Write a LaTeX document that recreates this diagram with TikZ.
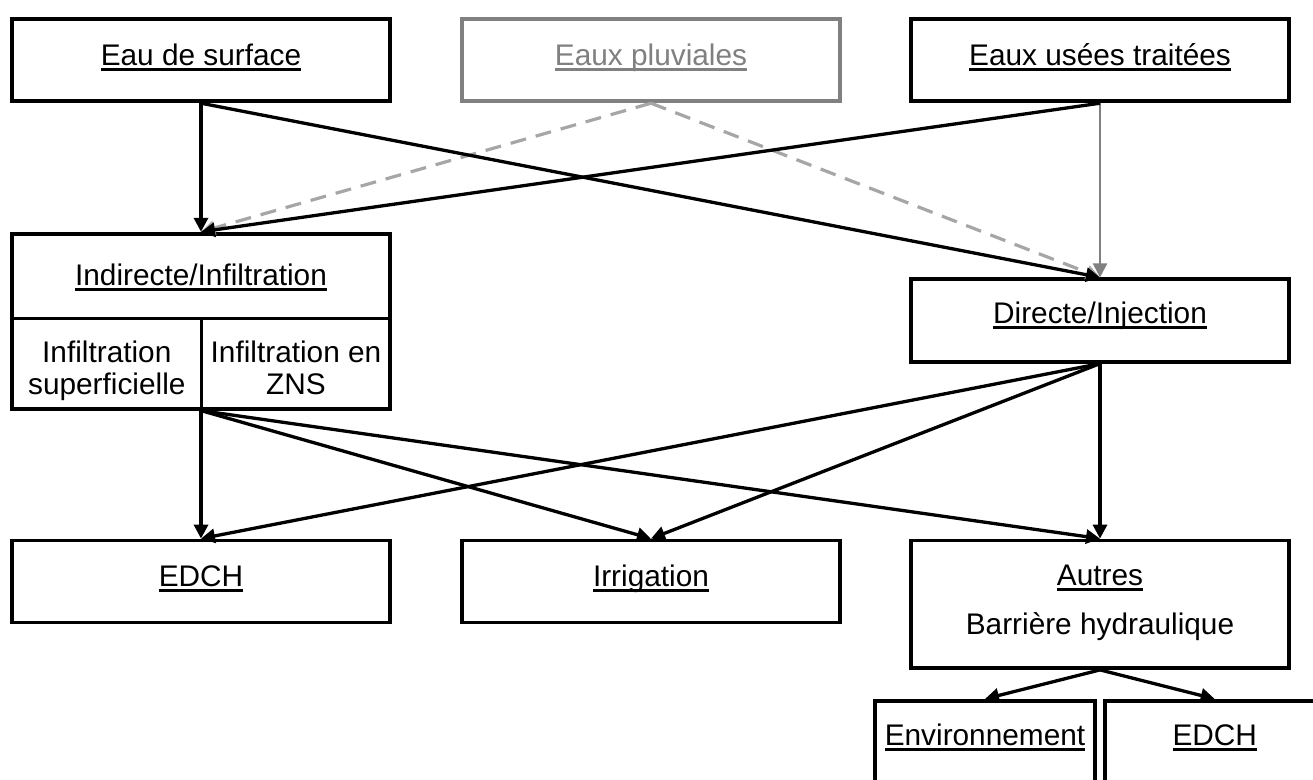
\documentclass[tikz,border=0pt]{standalone}
\usepackage{fontspec}
\setmainfont{Liberation Sans}
\usetikzlibrary{arrows.meta}
\definecolor{edgegray}{HTML}{808080}
\definecolor{dashgray}{HTML}{A6A6A6}
% underline placed at a fixed depth, crossing descenders
\newcommand\undl[1]{\setbox0=\hbox{#1}\rlap{\rule[-5.6pt]{\wd0}{2.8pt}}\box0}
\begin{document}
\begin{tikzpicture}[x=1pt,y=-1pt,
  box/.style={draw, line width=3.8pt, fill=white, inner sep=0pt,
    minimum width=378pt, minimum height=82pt},
  lbl/.style={anchor=base, inner sep=0pt, font=\fontsize{29.8}{34}\selectfont},
  divider/.style={line width=3.2pt},
  flow/.style={line width=3.3pt, -{Triangle[length=14pt,width=14pt]}},
  grayflow/.style={line width=2.4pt, draw=edgegray, -{Triangle[length=14pt,width=14pt]}},
  dashflow/.style={line width=3.2pt, draw=dashgray, dash pattern=on 16pt off 10pt,
    -{Triangle[length=14pt,width=14pt]}}
]
\useasboundingbox (0,0) rectangle (1313,779);
\clip (0,0) rectangle (1313,779);

% sources
\node[box] (surf) at (201,60.3) {};
\node[box, draw=edgegray] (pluv) at (651,60.3) {};
\node[box] (usees) at (1100,60.3) {};
\node[lbl] (tsurf) at (201,65) {\undl{Eau de surface}};
\node[lbl, text=edgegray] (tpluv) at (651,65) {\undl{Eaux pluviales}};
\node[lbl] (tusees) at (1100,65) {\undl{Eaux usées traitées}};

% recharge modes
\node[box, minimum height=175pt] (indir) at (201,321.2) {};
\draw[divider] (indir.west |- 0,318.3) -- (indir.east |- 0,318.3);
\draw[divider] (201.7,318.3) -- (201.7,408.7);
\node[lbl] (tindir) at (201,285) {\undl{Indirecte/Infiltration}};
\node[lbl] (tsup1) at (106.8,362) {Infiltration};
\node[lbl] (tsup2) at (106.8,394) {superficielle};
\node[lbl] (tzns1) at (296,362) {Infiltration en};
\node[lbl] (tzns2) at (296,394) {ZNS};

\node[box, minimum height=82.4pt] (dir) at (1100,320.5) {};
\node[lbl] (tdir) at (1100,323.3) {\undl{Directe/Injection}};

% uses
\node[box] (edch) at (201,581.5) {};
\node[lbl] (tedch) at (201,586) {\undl{EDCH}};
\node[box] (irr) at (651,581.5) {};
\node[lbl] (tirr) at (651,586) {\undl{Irrigation}};
\node[box, minimum height=127.5pt] (autres) at (1100,604.25) {};
\node[lbl] (tautres) at (1100,585) {\undl{Autres}};
\node[lbl] (tbarr) at (1100,634) {Barrière hydraulique};

\node[box, minimum width=220pt, minimum height=120pt] (env) at (985,760.8) {};
\node[lbl] (tenv) at (985,745) {\undl{Environnement}};
\node[box, minimum width=220pt, minimum height=120pt] (edchb) at (1214.7,760.8) {};
\node[lbl] (tedchb) at (1214.7,745) {\undl{EDCH}};

% flows
\draw[dashflow] (pluv.south) -- (indir.north);
\draw[dashflow] (pluv.south) -- (dir.north);
\draw[grayflow] (usees.south) -- (dir.north);
\draw[flow] (surf.south) -- (indir.north);
\draw[flow] (surf.south) -- (dir.north);
\draw[flow] (usees.south) -- (indir.north);

\draw[flow] (indir.south) -- (edch.north);
\draw[flow] (indir.south) -- (irr.north);
\draw[flow] (indir.south) -- (autres.north);
\draw[flow] (dir.south) -- (edch.north);
\draw[flow] (dir.south) -- (irr.north);
\draw[flow] (dir.south) -- (autres.north);

\draw[flow] (autres.south) -- (env.north);
\draw[flow] (autres.south) -- (edchb.north);
\end{tikzpicture}
\end{document}
